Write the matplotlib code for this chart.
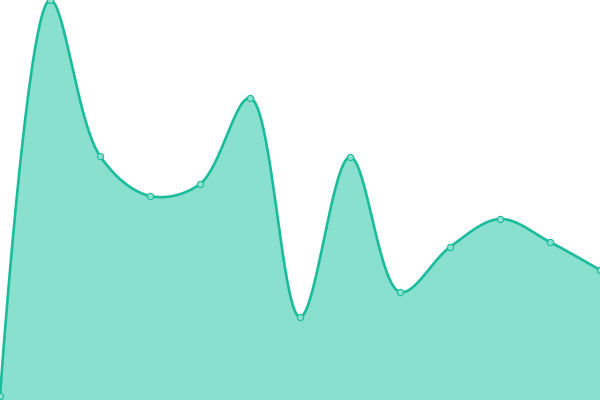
import numpy as np
from matplotlib import pyplot as plt

x = np.arange(13)
values = [4, 400, 244, 204, 216, 302, 83, 243, 108, 153, 181, 158, 130]

line_color = '#1abc9c'
fill_color = '#8ae0cf'


def catmull_rom(xs, ys, alpha=0.5, n=40):
    # d3 curveCatmullRom; distances measured in pixel space (50 px per step)
    pts = np.column_stack([np.asarray(xs) * 50.0, ys]).astype(float)
    t = np.linspace(0, 1, n)[:, None]
    out = []
    k = len(pts)
    for i in range(k - 1):
        p1, p2 = pts[i], pts[i + 1]
        c1, c2 = p1.copy(), p2.copy()
        l12 = np.linalg.norm(p2 - p1)
        l12_a, l12_2a = l12 ** alpha, l12 ** (2 * alpha)
        if i > 0:
            p0 = pts[i - 1]
            l01 = np.linalg.norm(p1 - p0)
            a1, a2 = l01 ** alpha, l01 ** (2 * alpha)
            a = 2 * a2 + 3 * a1 * l12_a + l12_2a
            m = 3 * a1 * (a1 + l12_a)
            c1 = (p1 * a - p0 * l12_2a + p2 * a2) / m
        if i < k - 2:
            p3 = pts[i + 2]
            l23 = np.linalg.norm(p3 - p2)
            b1, b2 = l23 ** alpha, l23 ** (2 * alpha)
            b = 2 * b2 + 3 * b1 * l12_a + l12_2a
            m = 3 * b1 * (b1 + l12_a)
            c2 = (p2 * b + p1 * b2 - p3 * l12_2a) / m
        seg = ((1 - t) ** 3) * p1 + 3 * ((1 - t) ** 2) * t * c1 \
            + 3 * (1 - t) * t ** 2 * c2 + t ** 3 * p2
        out.append(seg if i == 0 else seg[1:])
    s = np.vstack(out)
    return s[:, 0] / 50.0, s[:, 1]


cx, cy = catmull_rom(x, values)

fig = plt.figure(figsize=(6, 4), dpi=100)
ax = fig.add_axes([0, 0, 1, 1])
ax.fill_between(cx, cy, 0, color=fill_color, lw=0)
ax.plot(cx, cy, color=line_color, lw=1.9, solid_capstyle='round')
ax.plot(x, values, 'o', ms=4.5, mfc=fill_color, mec=line_color, mew=0.8)
ax.set_xlim(0, 12)
ax.set_ylim(0, 400)
ax.axis('off')
fig.savefig('out.png', dpi=100)
